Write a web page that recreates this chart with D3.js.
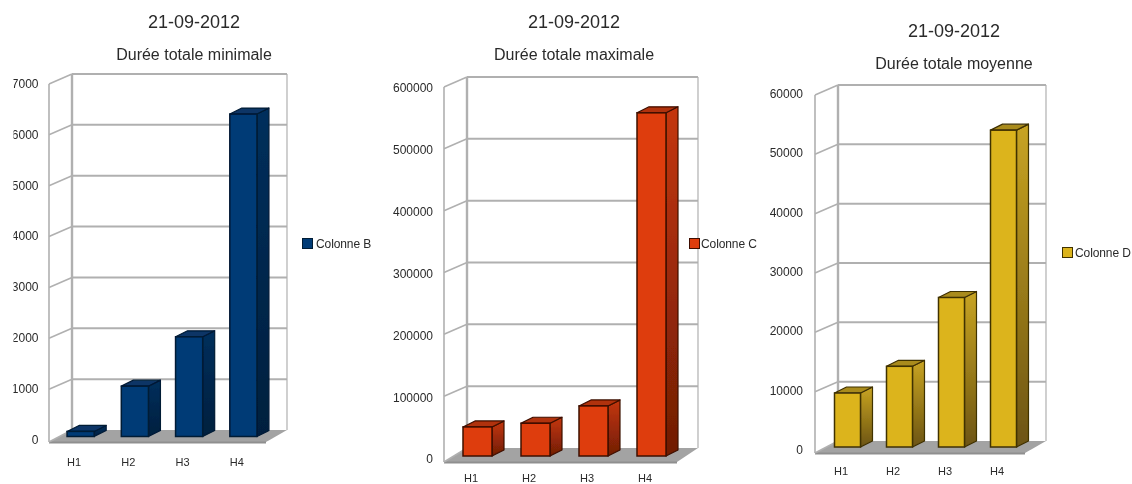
<!DOCTYPE html>
<html>
<head>
<meta charset="utf-8">
<script src="https://cdn.jsdelivr.net/npm/d3@7"></script>
<style>
html, body { margin: 0; padding: 0; background: #fff; }
svg { display: block; font-family: "Liberation Sans", Arial, sans-serif; }
</style>
</head>
<body>
<svg width="1132" height="484"></svg>
<script>
"use strict";

// Data.

var dateTitle = "21-09-2012";
var categories = ["H1", "H2", "H3", "H4"];

var valuesB = [100, 990, 1960, 6340];
var valuesC = [47000, 53000, 81000, 555000];
var valuesD = [9100, 13600, 25200, 53400];

var ticksB = [0, 1000, 2000, 3000, 4000, 5000, 6000, 7000];
var ticksC = [0, 100000, 200000, 300000, 400000, 500000, 600000];
var ticksD = [0, 10000, 20000, 30000, 40000, 50000, 60000];

// One entry per chart: which data, and where it goes on the page.

var charts = [
    {
        id: "b", title: "Durée totale minimale", legend: "Colonne B",
        values: valuesB, ticks: ticksB,
        wall: { left: 72, right: 287, top: 74, bottom: 430 },
        floorDy: 12, barDrop: 6.5,
        barRange: [53.5, 270.5], titleX: 194, titleY: 28, subY: 60,
        tickX: 38.5, tickDy: 10, catY: 473, legendX: 302, legendY: 238, legendDx: 14, clipX: 13.5,
        face: "#003b76", side: ["#002f5c", "#001f3e"], top: "#0a3566", edge: "#001a35"
    },
    {
        id: "c", title: "Durée totale maximale", legend: "Colonne C",
        values: valuesC, ticks: ticksC,
        wall: { left: 467, right: 698, top: 77, bottom: 448 },
        floorDy: 14, barDrop: 8,
        barRange: [448.5, 680.5], titleX: 574, titleY: 28, subY: 60,
        tickX: 433, tickDy: 11.5, catY: 489, legendX: 689, legendY: 238, legendDx: 12,
        face: "#de3c0c", side: ["#c4360b", "#701d05"], top: "#b0300a", edge: "#3e0f02"
    },
    {
        id: "d", title: "Durée totale moyenne", legend: "Colonne D",
        values: valuesD, ticks: ticksD,
        wall: { left: 838, right: 1046, top: 85, bottom: 441 },
        floorDy: 12, barDrop: 6,
        barRange: [821.5, 1029.5], titleX: 954, titleY: 37, subY: 69,
        tickX: 803, tickDy: 9, catY: 482, legendX: 1062, legendY: 247, legendDx: 13,
        face: "#dcb41e", side: ["#c8a422", "#6c5412"], top: "#a98b1c", edge: "#3f3005"
    }
];

// Box geometry shared by the three charts.

var WallDx = 23, WallDy = 10;
var BarDx = 12, BarDy = 6;
var GridColor = "#b0b0b0";
var FloorColor = "#a3a3a3";
var TextColor = "#2a2a2a";

var svg = d3.select("svg");
var defs = svg.append("defs");

defs.append("filter").attr("id", "soft")
    .attr("filterUnits", "userSpaceOnUse")
    .attr("x", 0).attr("y", 0)
    .attr("width", 1132).attr("height", 484)
    .append("feGaussianBlur").attr("stdDeviation", 0.5);

var root = svg.append("g").attr("filter", "url(#soft)");

var poly = function(pts){
    return pts.map(function(p){ return p.join(","); }).join(" ");
};

var drawChart = function(c){
    var g = root.append("g").attr("class", "chart-" + c.id);
    var w = c.wall;
    var domainMax = d3.max(c.ticks);

    var y = d3.scaleLinear().domain([0, domainMax]).range([w.bottom, w.top]);
    var x = d3.scaleBand().domain(categories).range(c.barRange)
        .paddingInner(0.5).paddingOuter(0.25);

    // Side gradient, light at the top and dark at the foot.
    var grad = defs.append("linearGradient").attr("id", "side-" + c.id)
        .attr("x1", 0).attr("y1", 0).attr("x2", 0).attr("y2", 1);
    grad.append("stop").attr("offset", 0).attr("stop-color", c.side[0]);
    grad.append("stop").attr("offset", 1).attr("stop-color", c.side[1]);

    // Titles.
    g.append("text").attr("x", c.titleX).attr("y", c.titleY)
        .attr("text-anchor", "middle").attr("font-size", 18)
        .attr("fill", TextColor).text(dateTitle);
    g.append("text").attr("x", c.titleX).attr("y", c.subY)
        .attr("text-anchor", "middle").attr("font-size", 16)
        .attr("fill", TextColor).text(c.title);

    // Floor first, then the walls over it.
    var floorFront = w.bottom + c.floorDy;
    g.append("polygon")
        .attr("points", poly([
            [w.left, w.bottom], [w.right, w.bottom],
            [w.right - 21, floorFront], [w.left - WallDx, floorFront]
        ]))
        .attr("fill", FloorColor);
    g.append("line")
        .attr("x1", w.left - WallDx).attr("x2", w.right - 21)
        .attr("y1", floorFront + 0.5).attr("y2", floorFront + 0.5)
        .attr("stroke", "#8f8f8f").attr("stroke-width", 2);

    // Grid on the back wall, carried round the side wall.
    g.selectAll("line.grid").data(c.ticks.filter(function(t){ return t > 0; }))
        .enter().append("line").attr("class", "grid")
        .attr("x1", w.left).attr("x2", w.right)
        .attr("y1", function(d){ return y(d); })
        .attr("y2", function(d){ return y(d); })
        .attr("stroke", GridColor).attr("stroke-width", 2);
    g.selectAll("line.side").data(c.ticks)
        .enter().append("line").attr("class", "side")
        .attr("x1", w.left - WallDx).attr("x2", w.left)
        .attr("y1", function(d){ return y(d) + (d > 0 ? WallDy : c.floorDy); })
        .attr("y2", function(d){ return y(d); })
        .attr("stroke", GridColor).attr("stroke-width", 1.6);
    g.append("line")
        .attr("x1", w.left).attr("x2", w.left)
        .attr("y1", w.top).attr("y2", w.bottom)
        .attr("stroke", GridColor).attr("stroke-width", 2.4);
    g.append("line")
        .attr("x1", w.left - WallDx).attr("x2", w.left - WallDx)
        .attr("y1", w.top + WallDy).attr("y2", floorFront)
        .attr("stroke", GridColor).attr("stroke-width", 1.6);
    g.append("line")
        .attr("x1", w.right).attr("x2", w.right)
        .attr("y1", w.top).attr("y2", w.bottom)
        .attr("stroke", GridColor).attr("stroke-width", 1.2);

    // Bars: side, top, then front face.
    var yBar = function(v){ return y(v) + c.barDrop; };
    var base = yBar(0);
    var bars = g.selectAll("g.bar").data(c.values).enter().append("g").attr("class", "bar");
    var bw = x.bandwidth();

    bars.append("polygon")
        .attr("points", function(d, i){
            var x0 = x(categories[i]) + bw, t = yBar(d);
            return poly([[x0, t], [x0 + BarDx, t - BarDy], [x0 + BarDx, base - BarDy], [x0, base]]);
        })
        .attr("fill", "url(#side-" + c.id + ")")
        .attr("stroke", c.edge).attr("stroke-width", 1.2).attr("stroke-linejoin", "round");
    bars.append("polygon")
        .attr("points", function(d, i){
            var x0 = x(categories[i]), t = yBar(d);
            return poly([[x0, t], [x0 + BarDx, t - BarDy], [x0 + bw + BarDx, t - BarDy], [x0 + bw, t]]);
        })
        .attr("fill", c.top)
        .attr("stroke", c.edge).attr("stroke-width", 1.2).attr("stroke-linejoin", "round");
    bars.append("rect")
        .attr("x", function(d, i){ return x(categories[i]); })
        .attr("y", function(d){ return yBar(d); })
        .attr("width", bw)
        .attr("height", function(d){ return base - yBar(d); })
        .attr("fill", c.face)
        .attr("stroke", c.edge).attr("stroke-width", 1.5);

    // Axes. The value labels stand beside the front edge of the side wall.
    var yAxis = d3.axisLeft(y).tickValues(c.ticks).tickSize(0).tickPadding(0)
        .tickFormat(d3.format("d"));
    var yg = g.append("g").call(yAxis).attr("font-family", null);
    yg.select(".domain").remove();
    yg.selectAll(".tick").attr("transform", function(d){
        return "translate(" + c.tickX + "," + (y(d) + c.tickDy) + ")";
    });
    yg.selectAll("text").attr("font-size", 12).attr("fill", TextColor);

    if (c.clipX){
        // The first chart's labels are cut by the edge of its picture.
        defs.append("clipPath").attr("id", "clip-" + c.id)
            .append("rect").attr("x", c.clipX).attr("y", 0)
            .attr("width", 60).attr("height", 484);
        yg.attr("clip-path", "url(#clip-" + c.id + ")");
    }

    var xAxis = d3.axisBottom(x).tickSize(0).tickPadding(0);
    var xg = g.append("g")
        .attr("transform", "translate(-6.5," + (c.catY - 15) + ")")
        .call(xAxis)
        .attr("font-family", null);
    xg.select(".domain").remove();
    xg.selectAll("text").attr("font-size", 11).attr("fill", TextColor);

    // Legend.
    g.append("rect")
        .attr("x", c.legendX + 0.5).attr("y", c.legendY + 0.5)
        .attr("width", 10).attr("height", 10)
        .attr("fill", c.face).attr("stroke", c.edge).attr("stroke-width", 1);
    g.append("text")
        .attr("x", c.legendX + c.legendDx).attr("y", c.legendY + 9.5)
        .attr("font-size", 12).attr("letter-spacing", -0.1)
        .attr("fill", TextColor).text(c.legend);
};

charts.forEach(drawChart);
</script>
</body>
</html>
